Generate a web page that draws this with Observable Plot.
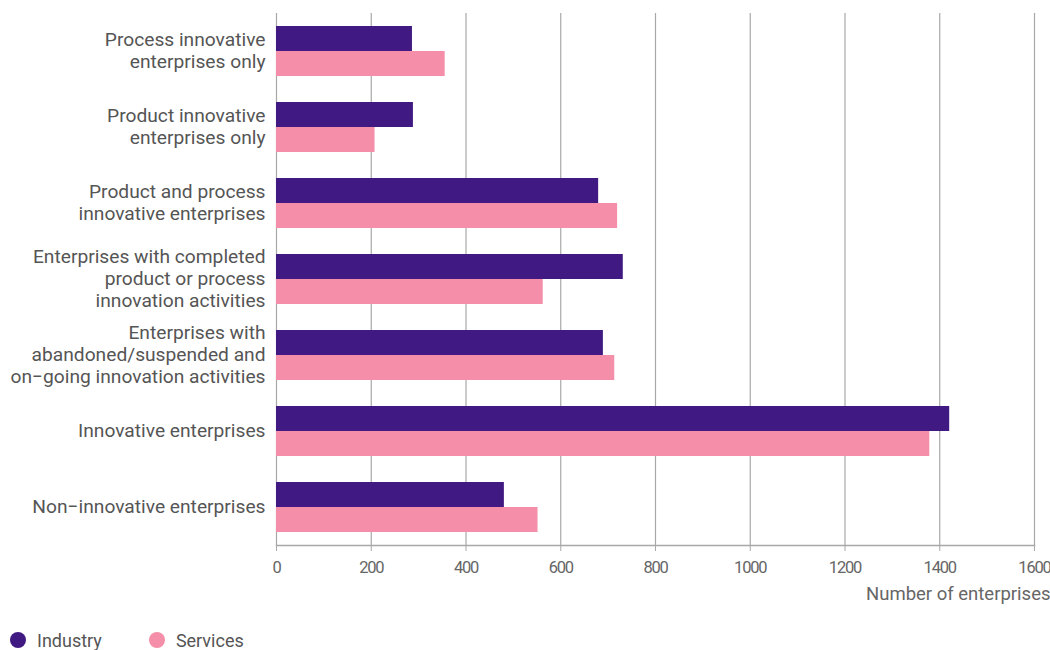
<!DOCTYPE html>
<html>
<head>
<meta charset="utf-8">
<script src="https://cdn.jsdelivr.net/npm/d3@7"></script>
<script src="https://cdn.jsdelivr.net/npm/@observablehq/plot@0.6"></script>
<style>
  html, body { margin: 0; padding: 0; background: #fff; }
  #chart svg { display: block; }
  #chart g[aria-label="x-axis tick label"] text { letter-spacing: -1.2px; }
  .legend { display: flex; align-items: center; font-family: Roboto, sans-serif; font-size: 18px; color: #555; height: 30px; margin-top: 10px; }
  .legend .item { display: flex; align-items: center; }
  .legend .sw { width: 16px; height: 16px; border-radius: 50%; display: inline-block; margin-right: 11px; }
</style>
</head>
<body>
<div id="chart"></div>
<script>
const categories = [
  "Process innovative\nenterprises only",
  "Product innovative\nenterprises only",
  "Product and process\ninnovative enterprises",
  "Enterprises with completed\nproduct or process\ninnovation activities",
  "Enterprises with\nabandoned/suspended and\non\u2212going innovation activities",
  "Innovative enterprises",
  "Non\u2212innovative enterprises"
];
const industry = [287, 289, 680, 732, 690, 1421, 481];
const services = [356, 208, 720, 563, 714, 1379, 552];
const xTicks = [0, 200, 400, 600, 800, 1000, 1200, 1400, 1600];
const xLabel = "Number of enterprises";
const seriesNames = ["Industry", "Services"];
const seriesColors = ["#401a82", "#f58ea8"];

const rows = categories.map((c, i) => ({category: c, industry: industry[i], services: services[i]}));

const plot = Plot.plot({
  width: 1050,
  height: 615,
  marginLeft: 276,
  marginRight: 16,
  marginTop: 13,
  marginBottom: 70,
  style: {fontFamily: "Roboto, sans-serif", fontSize: "18px", background: "#fff"},
  x: {domain: [0, 1600]},
  y: {domain: categories, paddingInner: 0.34, paddingOuter: 0.17},
  marks: [
    Plot.gridX(xTicks, {stroke: "#a8a8a8", strokeOpacity: 1, strokeWidth: 1.2}),
    Plot.barX(rows, {x: "industry", y: "category", fill: seriesColors[0], insetBottom: 25}),
    Plot.barX(rows, {x: "services", y: "category", fill: seriesColors[1], insetTop: 25}),
    Plot.frame({anchor: "bottom", stroke: "#a8a8a8", strokeWidth: 1.5}),
    Plot.axisY({tickSize: 0, tickPadding: 11, fontSize: 19.2, fill: "#555", lineHeight: 1.15, dy: -2, label: null}),
    Plot.axisX(xTicks, {tickSize: 6, stroke: "#a8a8a8", tickPadding: 10, fontSize: 16.5, fill: "#666",
      tickFormat: d3.format("d"), label: null}),
    Plot.text([xLabel], {frameAnchor: "bottom-right", textAnchor: "end", dx: 16, dy: 54, fontSize: 18.5, fill: "#666"})
  ]
});
document.getElementById("chart").appendChild(plot);

const legend = document.createElement("div");
legend.className = "legend";
seriesNames.forEach((name, i) => {
  const item = document.createElement("div");
  item.className = "item";
  item.style.marginLeft = i === 0 ? "10px" : "47px";
  const sw = document.createElement("span");
  sw.className = "sw";
  sw.style.background = seriesColors[i];
  item.appendChild(sw);
  item.appendChild(document.createTextNode(name));
  legend.appendChild(item);
});
document.body.appendChild(legend);
</script>
</body>
</html>
